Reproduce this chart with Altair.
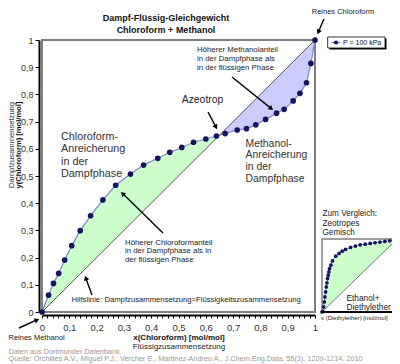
import math
import altair as alt
import pandas as pd

# ---------------- data ----------------
x_liq = [0, 0.024, 0.042, 0.061, 0.083, 0.109, 0.140, 0.178, 0.223, 0.270,
         0.324, 0.372, 0.424, 0.468, 0.512, 0.555, 0.600, 0.639, 0.671, 0.715,
         0.749, 0.783, 0.819, 0.859, 0.887, 0.920, 0.945, 0.969, 0.985, 1.0]
y_vap = [0, 0.062, 0.105, 0.142, 0.191, 0.244, 0.299, 0.354, 0.412, 0.466,
         0.507, 0.540, 0.565, 0.587, 0.605, 0.624, 0.636, 0.647, 0.656, 0.669,
         0.674, 0.688, 0.708, 0.731, 0.745, 0.776, 0.804, 0.843, 0.914, 1.0]
AZEO = 0.65

inset_x = [0, 0.009, 0.022, 0.031, 0.039, 0.048, 0.057, 0.066, 0.074, 0.083,
           0.092, 0.100, 0.118, 0.140, 0.183, 0.227, 0.270, 0.314, 0.380, 0.445,
           0.510, 0.576, 0.642, 0.707, 0.773, 0.838, 0.904, 0.960, 1.0]
inset_y = [0, 0.009, 0.069, 0.138, 0.206, 0.275, 0.344, 0.400, 0.459, 0.505,
           0.550, 0.596, 0.642, 0.700, 0.766, 0.803, 0.835, 0.858, 0.885, 0.904,
           0.922, 0.931, 0.940, 0.950, 0.959, 0.968, 0.977, 0.986, 1.0]

axis_ticks = [0, 0.1, 0.2, 0.3, 0.4, 0.5, 0.6, 0.7, 0.8, 0.9, 1]
x_minor_ticks = [round(i * 0.02, 2) for i in range(51)]

# ---------------- layout constants ----------------
FONT = "Liberation Sans"
OX, OY = 42, 40          # page position of plot origin
W, H = 273, 272
IX0, IW = 1.0256, 0.2747  # inset placement in main data units
IY0, IH = 0.0, 0.268

GREEN = "#ccffcc"
BLUE = "#ccccff"
LINE = "#7b88cc"
DOT = "#141460"

xs = alt.Scale(domain=[0, 1], nice=False, zero=False)
ys = alt.Scale(domain=[0, 1], nice=False, zero=False)

LBL = "replace(format(datum.value, '.1~f'), '.', ',')"
x_axis = alt.Axis(values=x_minor_ticks, title=None, grid=False,
                  labelExpr="abs(datum.value*10 - round(datum.value*10)) < 0.001 ? " + LBL + " : ''",
                  tickSize=3, tickColor="#000", domainColor="#000", domainWidth=2,
                  offset=3, labelFontSize=9.5, labelColor="#333", labelFont=FONT,
                  labelFlush=False, labelOverlap=False, labelPadding=4)
y_axis = alt.Axis(values=axis_ticks, title=None, grid=False,
                  labelExpr=LBL,
                  tickSize=4, tickColor="#000", domainColor="#000", domainWidth=2,
                  offset=3, labelFontSize=9, labelColor="#333", labelFont=FONT,
                  labelFlush=False, labelOverlap=False, labelPadding=2)


def X(f):
    return alt.X(f, scale=xs, axis=x_axis)


def Y(f):
    return alt.Y(f, scale=ys, axis=y_axis)


main = pd.DataFrame({"x": x_liq, "y": y_vap})
main["d"] = main["x"]
green = pd.concat([main[main.x <= AZEO], pd.DataFrame({"x": [AZEO], "y": [AZEO], "d": [AZEO]})])
blue = pd.concat([pd.DataFrame({"x": [AZEO], "y": [AZEO], "d": [AZEO]}), main[main.x >= AZEO]])
diag = pd.DataFrame({"x": [0, 1], "y": [0, 1]})

layers = []
layers.append(alt.Chart(green).mark_area(color=GREEN, opacity=1).encode(
    x=X("x:Q"), y=Y("y:Q"), y2="d:Q"))
layers.append(alt.Chart(blue).mark_area(color=BLUE, opacity=1).encode(
    x=X("x:Q"), y=Y("y:Q"), y2="d:Q"))
layers.append(alt.Chart(diag).mark_line(color="#555", strokeWidth=1).encode(
    x=X("x:Q"), y=Y("y:Q")))
layers.append(alt.Chart(main).mark_line(color=LINE, strokeWidth=1.2).encode(
    x=X("x:Q"), y=Y("y:Q")))
layers.append(alt.Chart(main).mark_circle(color=DOT, size=32, opacity=1).encode(
    x=X("x:Q"), y=Y("y:Q")))

# ---------------- inset (zeotropic mixture) ----------------
inset = pd.DataFrame({"ix": inset_x, "iy": inset_y})
calc = dict(mx=f"{IX0} + datum.ix * {IW}", my=f"{IY0} + datum.iy * {IH}",
            md=f"{IY0} + datum.ix * {IH}")
box = pd.DataFrame({"x0": [IX0], "x1": [IX0 + IW], "y0": [IY0], "y1": [IY0 + IH]})
layers.append(alt.Chart(box).mark_rect(fill="white", stroke="#808080", strokeWidth=1.5).encode(
    x=X("x0:Q"), x2="x1:Q", y=Y("y0:Q"), y2="y1:Q"))
layers.append(alt.Chart(inset).transform_calculate(**calc).mark_area(color=GREEN, opacity=1).encode(
    x=X("mx:Q"), y=Y("my:Q"), y2="md:Q"))
idiag = pd.DataFrame({"x": [IX0, IX0 + IW], "y": [IY0, IY0 + IH]})
layers.append(alt.Chart(idiag).mark_line(color="#555", strokeWidth=0.8).encode(
    x=X("x:Q"), y=Y("y:Q")))
layers.append(alt.Chart(inset).transform_calculate(**calc).mark_line(color=LINE, strokeWidth=1).encode(
    x=X("mx:Q"), y=Y("my:Q")))
layers.append(alt.Chart(inset).transform_calculate(**calc).mark_circle(color=DOT, size=14, opacity=1).encode(
    x=X("mx:Q"), y=Y("my:Q")))
layers.append(alt.Chart(box).mark_rule(color="#000", strokeWidth=2).encode(
    x=X("x0:Q"), x2="x1:Q", y=Y("y0:Q")))


# ---------------- annotations ----------------
def txt(s, x, y, size, weight="normal", align="left", color="#222", angle=0):
    return alt.Chart(pd.DataFrame({"t": [s]})).mark_text(
        align=align, baseline="middle", fontSize=size, fontWeight=weight,
        font=FONT, color=color, angle=angle).encode(
        x=alt.value(x - OX), y=alt.value(y - OY), text="t:N")


def arrow(x1, y1, x2, y2):
    dx, dy = x2 - x1, y2 - y1
    L = math.hypot(dx, dy)
    ux, uy = dx / L, dy / L
    cx, cy = x2 - ux * 3, y2 - uy * 3
    ang = (math.degrees(math.atan2(dx, -dy)) + 360) % 360
    r = alt.Chart(pd.DataFrame({"a": [0]})).mark_rule(color="#000", strokeWidth=1.4).encode(
        x=alt.value(x1 - OX), y=alt.value(y1 - OY), x2=alt.value(cx - OX), y2=alt.value(cy - OY))
    h = alt.Chart(pd.DataFrame({"a": [0]})).mark_point(
        shape="triangle", filled=True, size=30, color="#000", opacity=1, angle=ang).encode(
        x=alt.value(cx - OX), y=alt.value(cy - OY))
    return [r, h]


# titles
layers.append(txt("Dampf-Flüssig-Gleichgewicht", 166, 18, 9, "bold", "center", "#111"))
layers.append(txt("Chloroform + Methanol", 166, 30, 9, "bold", "center", "#111"))
# y axis title
layers.append(txt("Dampfzusammensetzung", 12, 145, 7.6, "normal", "center", "#333", 270))
layers.append(txt("y(Chloroform) [mol/mol]", 18.8, 145, 7.6, "bold", "center", "#111", 270))
# x axis title
layers.append(txt("x(Chloroform) [mol/mol]", 179, 337.5, 8, "bold", "center", "#111"))
layers.append(txt("Flüssigzusammensetzung", 179, 346.5, 8, "normal", "center", "#222"))
# sources
layers.append(txt("Daten aus Dortmunder Datenbank", 8.5, 351.5, 7.3, "normal", "left", "#999"))
layers.append(txt("Quelle: Orchilles A.V., Miguel P.J., Vercher E., Martinez-Andreu A., J.Chem.Eng.Data, 55(3), 1209-1214, 2010",
                  8.5, 359, 7.3, "normal", "left", "#999"))

# big annotations
for i, s in enumerate(["Chloroform-", "Anreicherung", "in der", "Dampfphase"]):
    layers.append(txt(s, 61, 137 + i * 12.3, 10.8, "normal", "left", "#333"))
for i, s in enumerate(["Methanol-", "Anreicherung", "in der", "Dampfphase"]):
    layers.append(txt(s, 245.5, 143.5 + i * 11.7, 10.4, "normal", "left", "#333"))
layers.append(txt("Azeotrop", 202.5, 99.5, 10.4, "normal", "center", "#222"))

# small annotations
for i, s in enumerate(["Höherer Methanolanteil", "in der Dampfphase als", "in der flüssigen Phase"]):
    layers.append(txt(s, 197, 50 + i * 9, 7.8, "normal", "left", "#222"))
for i, s in enumerate(["Höherer Chloroformanteil", "in der Dampfphase als in", "der flüssigen Phase"]):
    layers.append(txt(s, 125, 242.5 + i * 8.8, 7.8, "normal", "left", "#222"))
layers.append(txt("Hilfslinie: Dampfzusammensetzung=Flüssigkeitszusammensetzung", 71.5, 300, 7.7, "normal", "left", "#222"))
layers.append(txt("Reines Chloroform", 343, 12, 7.5, "normal", "center", "#222"))
layers.append(txt("Reines Methanol", 8.5, 337.5, 7.5, "normal", "left", "#222"))

# inset texts
for i, s in enumerate(["Zum Vergleich:", "Zeotropes", "Gemisch"]):
    layers.append(txt(s, 322.5, 214 + i * 9.6, 8.2, "normal", "left", "#222"))
layers.append(txt("Ethanol+", 346.5, 299, 8.3, "normal", "left", "#222"))
layers.append(txt("Diethylether", 346.5, 308, 8.3, "normal", "left", "#222"))
layers.append(txt("x (Diethylether) [mol/mol]", 321, 317.5, 6, "normal", "left", "#222"))

# arrows
layers += arrow(324, 19, 317.5, 34)
layers += arrow(208, 112, 217, 129)
layers += arrow(232, 77, 273, 110)
layers += arrow(163, 233, 121, 192)
layers += arrow(92, 295, 85, 276)
layers += arrow(19, 328, 39, 319)

# legend box
leg = alt.Chart(pd.DataFrame({"a": [0]}))
layers.append(leg.mark_rect(fill="#000").encode(
    x=alt.value(329.5 - OX), x2=alt.value(386.5 - OX), y=alt.value(38.5 - OY), y2=alt.value(49.5 - OY)))
layers.append(leg.mark_rect(fill="white", stroke="#000", strokeWidth=0.8).encode(
    x=alt.value(327.7 - OX), x2=alt.value(385 - OX), y=alt.value(37 - OY), y2=alt.value(48 - OY)))
layers.append(leg.mark_rule(color=LINE, strokeWidth=1.2).encode(
    x=alt.value(331.5 - OX), x2=alt.value(340.5 - OX), y=alt.value(42.5 - OY)))
layers.append(leg.mark_circle(color=DOT, size=18, opacity=1).encode(
    x=alt.value(336 - OX), y=alt.value(42.5 - OY)))
layers.append(txt("P = 100 kPa", 343, 42.5, 7, "normal", "left", "#111"))

chart = alt.layer(*layers).properties(
    width=W, height=H,
    padding={"left": 34, "top": 32, "right": 77, "bottom": 52},
    autosize=alt.AutoSizeParams(type="none"),
    background="white",
).configure_view(stroke="#808080", strokeWidth=2)

chart.save("out.html", embed_options={"renderer": "svg", "actions": False})
